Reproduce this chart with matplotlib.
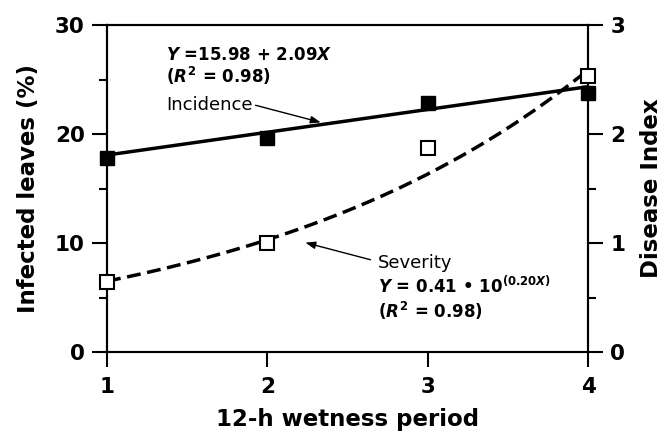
import numpy as np
import matplotlib
matplotlib.use("Agg")
import matplotlib.pyplot as plt
from matplotlib.ticker import MultipleLocator

# data
wetness = [1, 2, 3, 4]
incidence = [17.8, 19.6, 22.8, 23.8]      # infected leaves (%)
severity = [0.645, 1.0, 1.87, 2.53]       # disease index

# fitted equations printed on the chart
inc_intercept, inc_slope = 15.98, 2.09
sev_coef, sev_exp = 0.41, 0.20

plt.rcParams["font.family"] = "DejaVu Sans"
plt.rcParams["font.weight"] = "bold"
plt.rcParams["axes.labelweight"] = "bold"
plt.rcParams["mathtext.fontset"] = "custom"
plt.rcParams["mathtext.rm"] = "DejaVu Sans:bold"
plt.rcParams["mathtext.bf"] = "DejaVu Sans:bold"
plt.rcParams["mathtext.it"] = "DejaVu Sans:italic:bold"

fig = plt.figure(figsize=(6.67, 4.4), dpi=100)
ax = fig.add_axes([107 / 667, 1 - 352 / 440, 481 / 667, 327 / 440])
ax2 = ax.twinx()

xfit = np.linspace(1, 4, 200)
ax.plot(xfit, inc_intercept + inc_slope * xfit, color="black", lw=2.5, zorder=3)
ax.plot(wetness, incidence, "s", ms=9.5, color="black", clip_on=False, zorder=4)

ax2.plot(xfit, sev_coef * 10 ** (sev_exp * xfit), color="black", lw=2.5,
         dashes=(4, 1.9), zorder=3)
ax2.plot(wetness, severity, "s", ms=9.5, mfc="white", mec="black", mew=1.5,
         clip_on=False, zorder=4)

ax.set_xlim(1, 4)
ax.set_xticks(wetness)
ax.set_ylim(0, 30)
ax.set_yticks([0, 10, 20, 30])
ax.yaxis.set_minor_locator(MultipleLocator(5))
ax2.set_ylim(0, 3)
ax2.set_yticks([0, 1, 2, 3])
ax2.yaxis.set_minor_locator(MultipleLocator(0.5))

for a in (ax, ax2):
    for s in a.spines.values():
        s.set_linewidth(1.5)
    a.tick_params(which="major", direction="out", length=11, width=1.5,
                  labelsize=15.5, pad=5)
    a.tick_params(which="minor", direction="out", length=6, width=1.5)
ax.tick_params(axis="x", pad=7)

ax.set_xlabel("12-h wetness period", fontsize=16.5, labelpad=8)
ax.set_ylabel("Infected leaves (%)", fontsize=16.5, labelpad=11)
ax2.set_ylabel("Disease Index", fontsize=16.5, labelpad=11)

# incidence annotation
ax.text(1.37, 26.8, r"$Y$ =15.98 + 2.09$X$", fontsize=12, va="baseline")
ax.text(1.37, 24.7, r"($R^{2}$ = 0.98)", fontsize=12, va="baseline")
ax.text(1.37, 22.2, "Incidence", fontsize=13, fontweight="normal", va="baseline")
ax.annotate("", xy=(2.35, 21.0), xytext=(1.91, 22.7),
            arrowprops=dict(arrowstyle="-|>,head_length=0.6,head_width=0.22",
                            color="black", lw=1.0))

# severity annotation
ax.text(2.69, 7.7, "Severity", fontsize=13, fontweight="normal", va="baseline")
ax.text(2.69, 5.4, r"$Y$ = 0.41 • 10$^{(0.20X)}$", fontsize=12, va="baseline")
ax.text(2.69, 3.1, r"($R^{2}$ = 0.98)", fontsize=12, va="baseline")
ax.annotate("", xy=(2.22, 10.1), xytext=(2.66, 8.4),
            arrowprops=dict(arrowstyle="-|>,head_length=0.6,head_width=0.22",
                            color="black", lw=1.0))

fig.savefig("out.png", dpi=100)
